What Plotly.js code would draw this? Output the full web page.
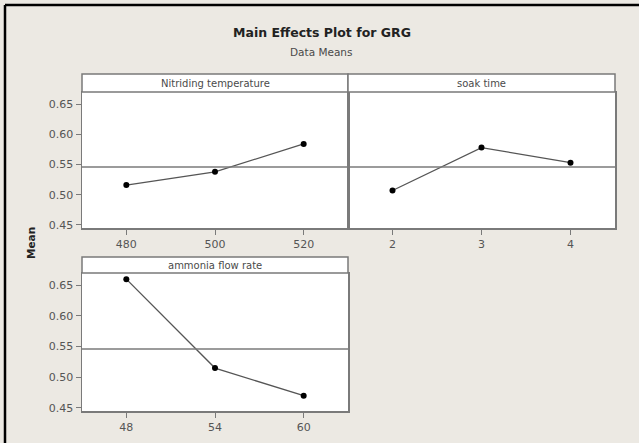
<!DOCTYPE html>
<html>
<head>
<meta charset="utf-8">
<script src="https://cdn.plot.ly/plotly-3.0.1.min.js"></script>
<style>html,body{margin:0;padding:0;background:#ECE9E3;}#chart{width:639px;height:443px;}</style>
</head>
<body>
<div id="chart"></div>
<script>
// Factor levels and mean GRG values
const tempLevels = [480, 500, 520];
const tempMeans = [0.516, 0.538, 0.584];
const soakLevels = [2, 3, 4];
const soakMeans = [0.507, 0.578, 0.553];
const flowLevels = [48, 54, 60];
const flowMeans = [0.660, 0.515, 0.470];
const panelNames = ["Nitriding temperature", "soak time", "ammonia flow rate"];
const yTicks = [0.45, 0.50, 0.55, 0.60, 0.65];
const yTickText = ["0.45", "0.50", "0.55", "0.60", "0.65"];
const grandMean = 0.546;

const W = 639, H = 443;
const px = v => v / W;
const py = v => 1 - v / H;

const lineStyle = {color: '#555555', width: 1.3};
const markerStyle = {color: '#000000', size: 6};
const mk = (x, y, xa, ya) => ({x: x, y: y, xaxis: xa, yaxis: ya, type: 'scatter', mode: 'lines+markers',
  line: lineStyle, marker: markerStyle, hoverinfo: 'skip', showlegend: false});

const data = [
  mk(tempLevels, tempMeans, 'x', 'y'),
  mk(soakLevels, soakMeans, 'x2', 'y2'),
  mk(flowLevels, flowMeans, 'x3', 'y3')
];

const tickFont = {family: 'DejaVu Sans', size: 11, color: '#555555'};
const axBase = {showline: true, mirror: true, linecolor: '#7a7a7a', linewidth: 1.5,
  showgrid: false, zeroline: false, ticks: 'outside', ticklen: 5, tickcolor: '#7a7a7a',
  tickfont: tickFont, fixedrange: true};
const yRange = [0.445, 0.670];
const topDom = [py(228), py(92)];
const botDom = [py(411), py(273)];

const layout = {
  width: W, height: H,
  margin: {l: 0, r: 0, t: 0, b: 0},
  paper_bgcolor: '#ECE9E3',
  plot_bgcolor: '#FFFFFF',
  title: {text: '<b>Main Effects Plot for GRG</b>', x: px(322), y: py(33), xanchor: 'center', yanchor: 'middle',
    font: {family: 'DejaVu Sans', size: 12.5, color: '#222222'}},
  xaxis: Object.assign({}, axBase, {domain: [px(82), px(348)], anchor: 'y', range: [470, 530],
    tickvals: tempLevels, ticktext: tempLevels.map(String)}),
  yaxis: Object.assign({}, axBase, {domain: topDom, anchor: 'x', range: yRange, tickvals: yTicks, ticktext: yTickText}),
  xaxis2: Object.assign({}, axBase, {domain: [px(348), px(615)], anchor: 'y2', range: [1.5, 4.5],
    tickvals: soakLevels, ticktext: soakLevels.map(String)}),
  yaxis2: Object.assign({}, axBase, {domain: topDom, anchor: 'x2', range: yRange, tickvals: yTicks,
    showticklabels: false, ticks: ''}),
  xaxis3: Object.assign({}, axBase, {domain: [px(82), px(348)], anchor: 'y3', range: [45, 63],
    tickvals: flowLevels, ticktext: flowLevels.map(String)}),
  yaxis3: Object.assign({}, axBase, {domain: botDom, anchor: 'x3', range: yRange, tickvals: yTicks, ticktext: yTickText}),
  shapes: [
    // outer frame (top and left edges visible)
    {type: 'line', xref: 'paper', yref: 'paper', x0: px(5), x1: 1, y0: py(5), y1: py(5), line: {color: '#000', width: 2.5}},
    {type: 'line', xref: 'paper', yref: 'paper', x0: px(5), x1: px(5), y0: 0, y1: py(5), line: {color: '#000', width: 2.5}},
    // strips
    {type: 'rect', xref: 'paper', yref: 'paper', x0: px(82), x1: px(348), y0: py(92), y1: py(74), fillcolor: '#FFFFFF', line: {color: '#7a7a7a', width: 1.5}},
    {type: 'rect', xref: 'paper', yref: 'paper', x0: px(348), x1: px(615), y0: py(92), y1: py(74), fillcolor: '#FFFFFF', line: {color: '#7a7a7a', width: 1.5}},
    {type: 'rect', xref: 'paper', yref: 'paper', x0: px(82), x1: px(348), y0: py(273), y1: py(257), fillcolor: '#FFFFFF', line: {color: '#7a7a7a', width: 1.5}},
    // grand mean reference lines
    {type: 'line', xref: 'x domain', yref: 'y', x0: 0, x1: 1, y0: grandMean, y1: grandMean, line: {color: '#7a7a7a', width: 1.5}},
    {type: 'line', xref: 'x2 domain', yref: 'y2', x0: 0, x1: 1, y0: grandMean, y1: grandMean, line: {color: '#7a7a7a', width: 1.5}},
    {type: 'line', xref: 'x3 domain', yref: 'y3', x0: 0, x1: 1, y0: grandMean, y1: grandMean, line: {color: '#7a7a7a', width: 1.5}}
  ],
  annotations: [
    {text: 'Data Means', xref: 'paper', yref: 'paper', x: px(322), y: py(52), xanchor: 'center', yanchor: 'middle',
      showarrow: false, font: {family: 'DejaVu Sans', size: 10.5, color: '#4a4a4a'}},
    {text: panelNames[0], xref: 'paper', yref: 'paper', x: px(215), y: py(83), xanchor: 'center', yanchor: 'middle',
      showarrow: false, font: {family: 'DejaVu Sans', size: 10, color: '#4a4a4a'}},
    {text: panelNames[1], xref: 'paper', yref: 'paper', x: px(481), y: py(83), xanchor: 'center', yanchor: 'middle',
      showarrow: false, font: {family: 'DejaVu Sans', size: 10, color: '#4a4a4a'}},
    {text: panelNames[2], xref: 'paper', yref: 'paper', x: px(215), y: py(265), xanchor: 'center', yanchor: 'middle',
      showarrow: false, font: {family: 'DejaVu Sans', size: 10, color: '#4a4a4a'}},
    {text: '<b>Mean</b>', xref: 'paper', yref: 'paper', x: px(31), y: py(243), xanchor: 'center', yanchor: 'middle',
      textangle: -90, showarrow: false, font: {family: 'DejaVu Sans', size: 10.5, color: '#222222'}}
  ]
};

Plotly.newPlot('chart', data, layout, {displayModeBar: false, staticPlot: true});
</script>
</body>
</html>
